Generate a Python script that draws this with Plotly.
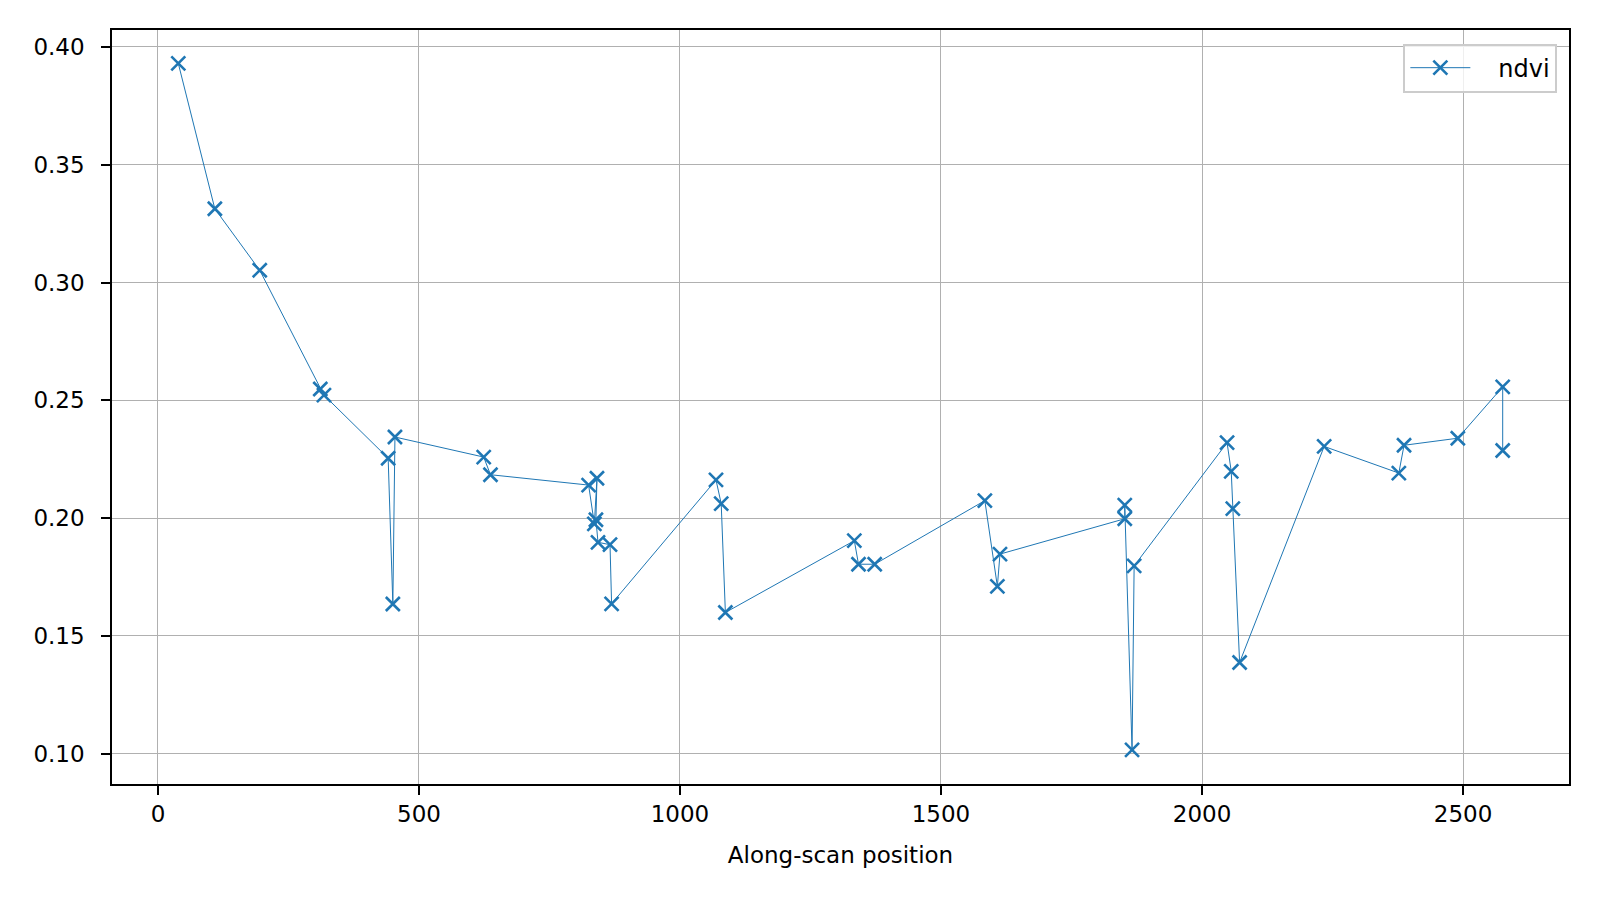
import plotly.graph_objects as go

# along-scan positions and ndvi values
position = [39, 109, 195, 311, 318, 441, 450, 454, 624, 637,
            825, 836, 841, 839, 843, 866, 869, 1069, 1079, 1087,
            1334, 1342, 1373, 1584, 1608, 1613, 1852, 1852, 1866, 1870,
            2048, 2056, 2059, 2072, 2234, 2377, 2387, 2490, 2576, 2576]
ndvi = [0.393, 0.3313, 0.3052, 0.2548, 0.2522, 0.2254, 0.1635, 0.2344, 0.2259, 0.2184,
        0.2140, 0.1975, 0.2169, 0.1993, 0.1897, 0.1887, 0.1636, 0.2162, 0.2061, 0.1599,
        0.1904, 0.1804, 0.1804, 0.2074, 0.1710, 0.1847, 0.1997, 0.2055, 0.1016, 0.1797,
        0.2320, 0.2198, 0.2040, 0.1387, 0.2304, 0.2191, 0.2309, 0.2339, 0.2557, 0.2287]

x_ticks = [0, 500, 1000, 1500, 2000, 2500]
y_ticks = [0.10, 0.15, 0.20, 0.25, 0.30, 0.35, 0.40]

blue = '#1f77b4'

fig = go.Figure()
fig.add_trace(go.Scatter(
    x=position, y=ndvi, mode='lines+markers',
    name='\u00a0\u00a0\u00a0ndvi',  # nbsp padding to mimic the legend spacing
    line=dict(color=blue, width=1),
    marker=dict(symbol='x-thin-open', size=14, color=blue,
                line=dict(color=blue, width=2.6)),
))

axis_common = dict(
    showgrid=True, gridcolor='#b0b0b0', gridwidth=1.3,
    showline=True, linecolor='black', linewidth=1.6, mirror=True,
    ticks='outside', ticklen=9, tickcolor='black', tickwidth=1.6,
    zeroline=False, tickfont=dict(size=23, color='black'),
)

fig.update_xaxes(range=[-88, 2703], tickvals=x_ticks,
                 title=dict(text='Along-scan position', font=dict(size=23, color='black'), standoff=20),
                 **axis_common)
fig.update_yaxes(range=[0.0871, 0.4072], tickvals=y_ticks, tickformat='.2f',
                 ticklabelstandoff=12, **axis_common)

fig.update_layout(
    width=1600, height=900,
    margin=dict(l=104, r=39, t=22, b=124),
    plot_bgcolor='white', paper_bgcolor='white',
    font=dict(family='DejaVu Sans', color='black'),
    showlegend=True,
    legend=dict(x=0.992, y=0.982, xanchor='right', yanchor='top',
                bgcolor='rgba(255,255,255,0.8)', bordercolor='#cccccc', borderwidth=2,
                font=dict(size=24), itemwidth=60),
)

fig.write_html("out.html")
